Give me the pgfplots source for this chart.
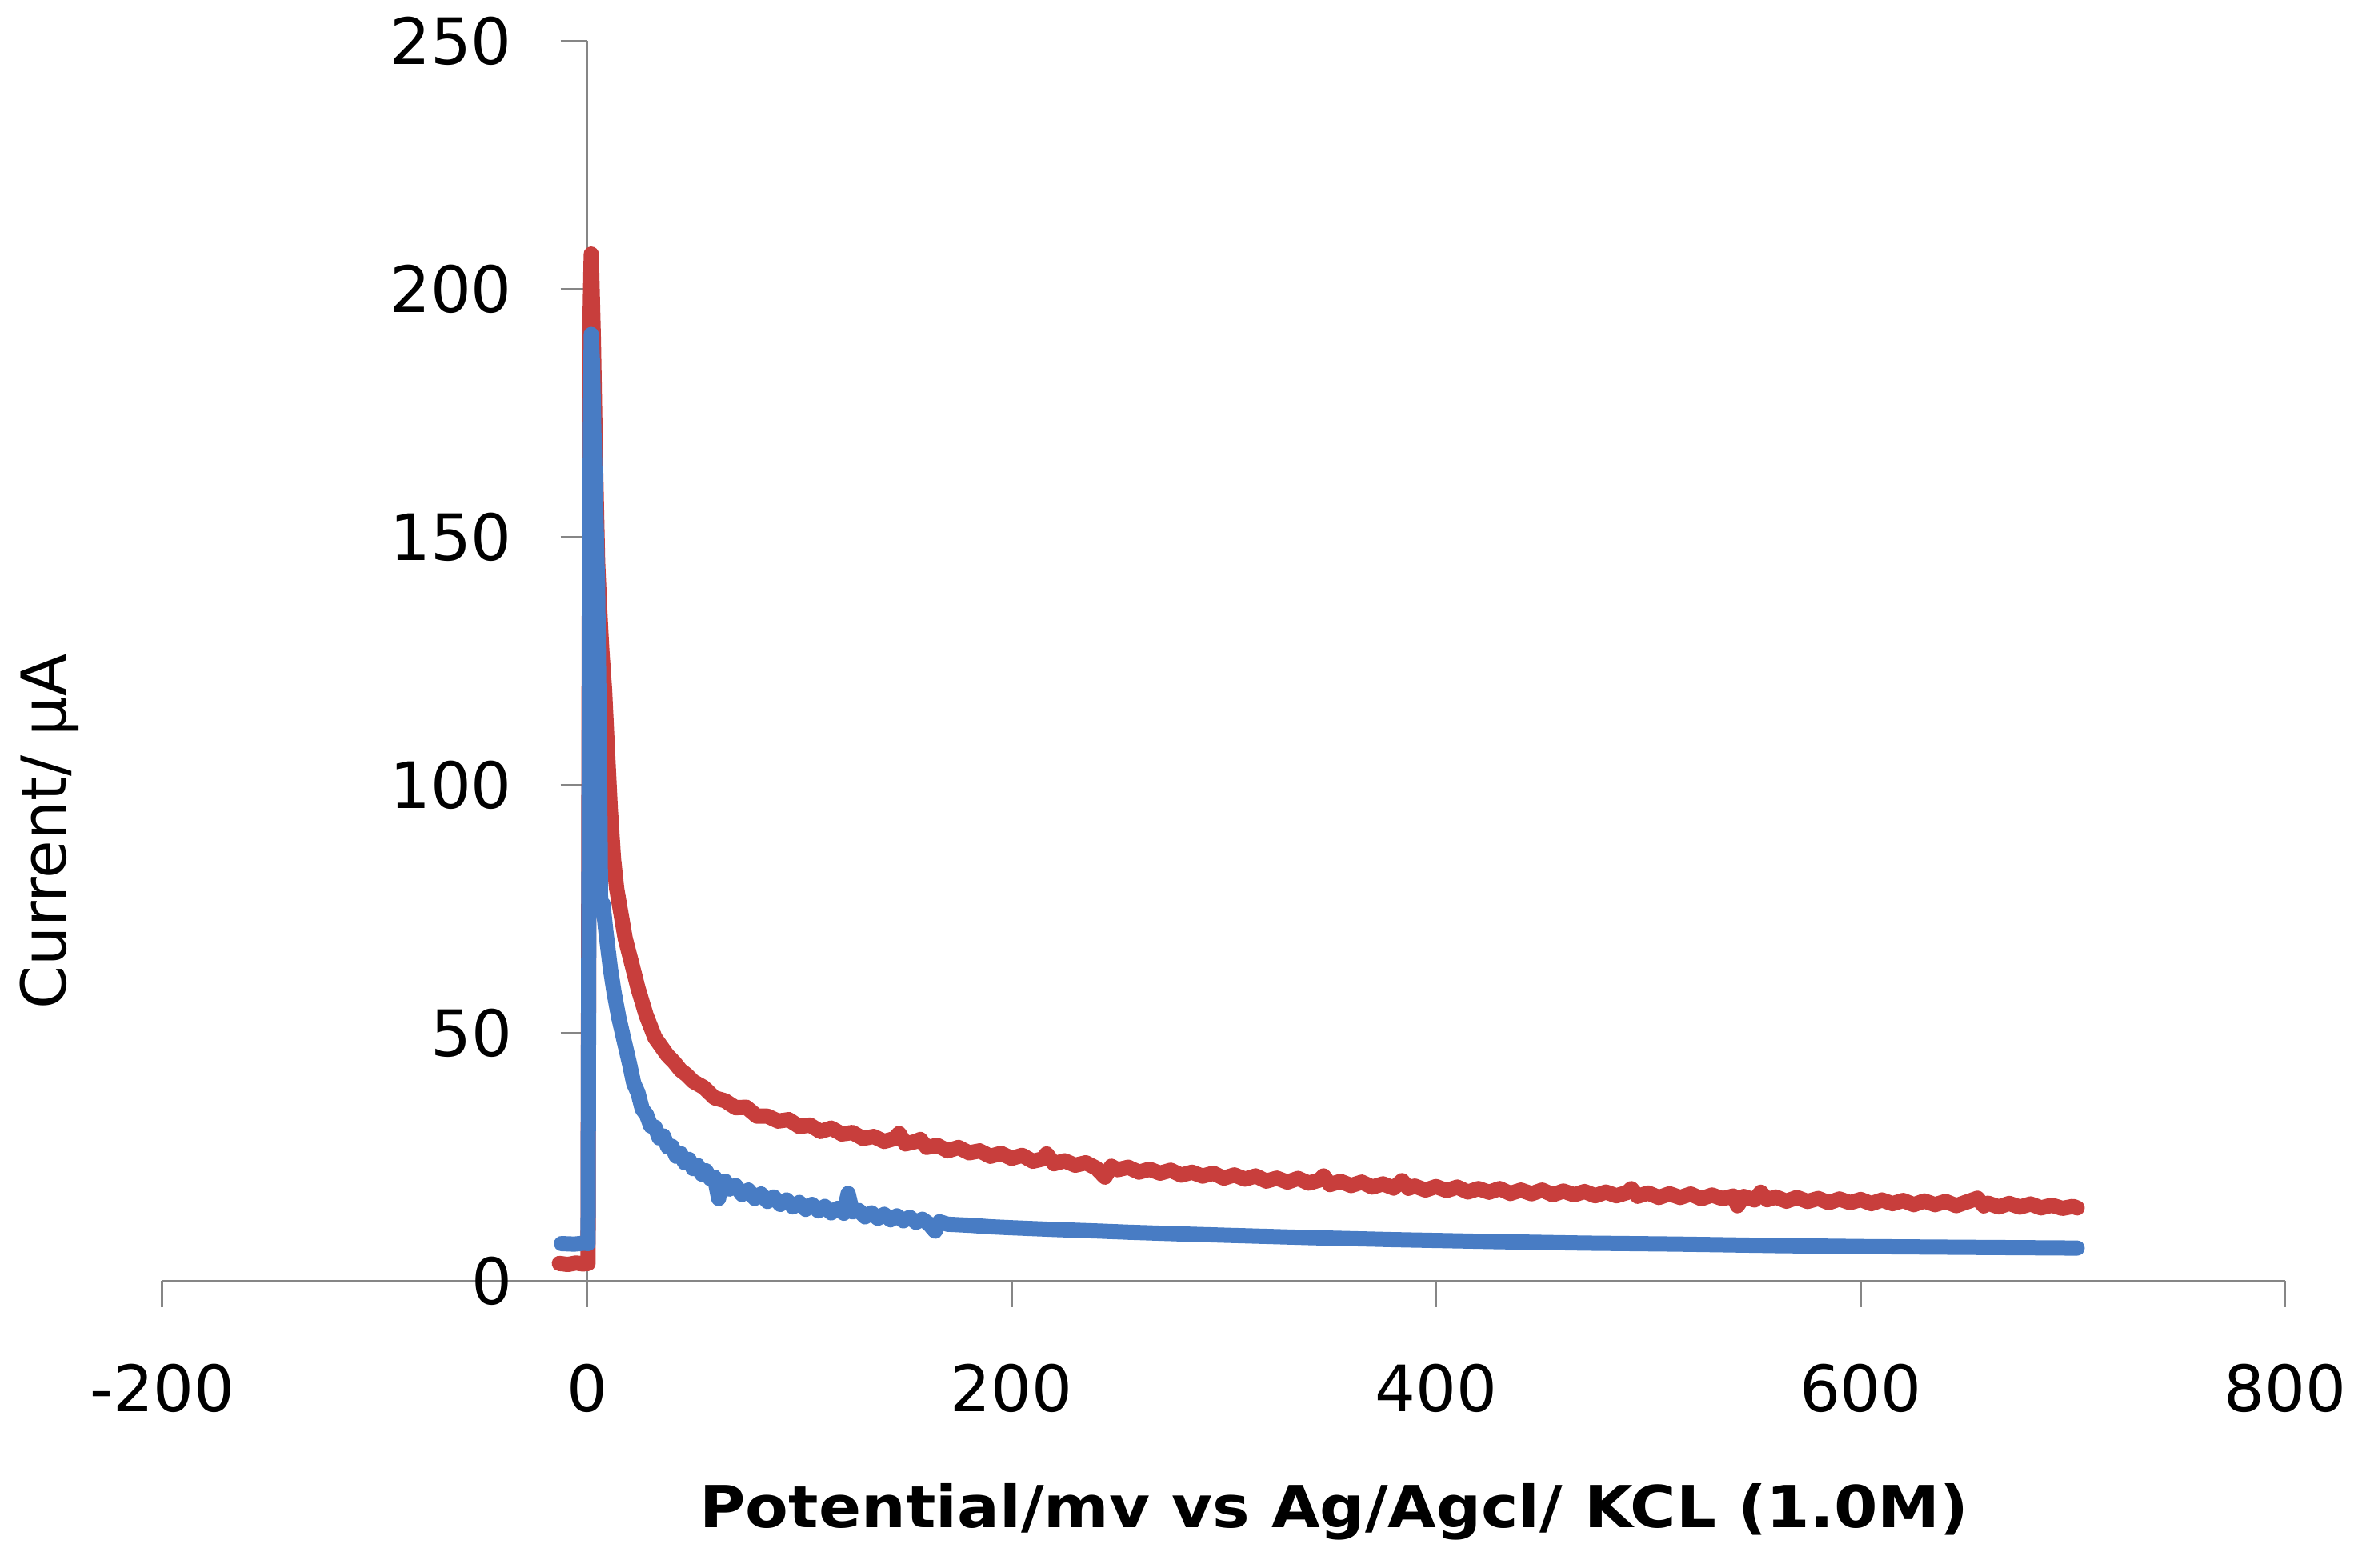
\documentclass[border=0pt]{standalone}
\usepackage{fontspec}
\setmainfont{DejaVu Sans}
\newfontfamily\xlabfont{DejaVu Sans}[FakeStretch=1.08]
\usepackage{pgfplots}
\pgfplotsset{compat=1.18}
\definecolor{myred}{RGB}{200,62,60}
\definecolor{myblue}{RGB}{72,124,196}
\definecolor{axgray}{RGB}{134,134,134}
\begin{document}
\begin{tikzpicture}
\path[use as bounding box] (-40.6pt,-71.6pt) rectangle (553.8pt,320.2pt);
\begin{axis}[
  at={(0,0)}, anchor=south west,
  scale only axis, width=530.6pt, height=310pt,
  xmin=-200, xmax=800, ymin=0, ymax=250,
  axis x line=middle, axis y line=middle,
  axis line style={axgray, line width=0.6pt, -},
  xtick={-200,0,200,400,600,800}, ytick={0,50,100,150,200,250},
  tick align=outside,
  major tick length=6.6pt,
  tick style={axgray, line width=0.6pt},
  hide obscured x ticks=false, hide obscured y ticks=false,
  /pgf/number format/assume math mode=true,
  ticklabel style={font=\fontsize{16}{16}\selectfont, text=black},
  xticklabel style={anchor=north, yshift=-10.6pt},
  yticklabel style={anchor=east, xshift=-8.6pt},
  xlabel={Potential/mv vs Ag/Agcl/ KCL (1.0M)},
  ylabel={Current/ µA},
  xlabel style={at={(rel axis cs:0.552,0)}, anchor=center, yshift=-57.8pt, font=\xlabfont\bfseries\fontsize{14.5}{14.5}\selectfont},
  ylabel style={at={(rel axis cs:-0.0531,0.362)}, anchor=center, rotate=90, font=\fontsize{15.5}{15.5}\selectfont},
  clip=false,
]
\addplot[myred, line width=3.8pt, line join=round, line cap=round] coordinates {
(-13,3.5) (-9,3.3) (-5,3.6) (-2,3.4) (0.5,3.5) (1.0,120) (1.5,195) (2.0,207) (3,190) (4,165) (5,145) (6,135) (7,127) (8.3,119) (9.5,108) (11,95) (12.5,85) (14,79) (16,74) (18,69) (20.8,64.4) (24,59) (27.8,53.6) (32,49) (35,47.2) (37.8,45.5) (41,44.1) (44,42.5) (47,41.5) (50,40.2)
(55,39.0) (60,36.9) (65,36.3) (70,34.9) (75,35.0) (80,33.2) (85,33.2) (90,32.2) (95,32.5) (100,31.1)
(105,31.4) (110,30.1) (115,30.8) (120,29.6) (125,29.9) (130,28.7) (135,29.1) (140,28.1) (145,28.7) (147,29.7)
(150,27.6) (155,28.1) (157,28.5) (160,26.9) (165,27.3) (170,26.2) (175,26.9) (180,25.8) (185,26.2) (190,25.1)
(195,25.7) (200,24.7) (205,25.3) (210,24.1) (215,24.6) (216.5,25.6) (220,23.6) (225,24.2) (230,23.3) (235,23.8)
(240,22.7) (244,20.9) (247,23.1) (250,22.4) (255,22.9) (260,21.9) (265,22.5) (270,21.7) (275,22.3) (280,21.3)
(285,21.9) (290,21.1) (295,21.7) (300,20.7) (305,21.35) (310,20.5) (315,21.15) (320,20.1) (325,20.7) (330,19.9)
(335,20.65) (340,19.7) (345,20.3) (347,21.15) (350,19.4) (355,20.05) (360,19.2) (365,19.9) (370,18.9) (375,19.55)
(380,18.7) (384,20.2) (387,18.65) (390,19.1) (395,18.3) (400,19.0) (405,18.2) (410,18.9) (415,17.9) (420,18.6)
(425,17.85) (430,18.6) (435,17.6) (440,18.3) (445,17.55) (450,18.3) (455,17.35) (460,18.1) (465,17.35) (470,18.0)
(475,17.15) (480,17.9) (485,17.15) (490,17.8) (492,18.58) (495,17.05) (500,17.7) (505,16.8) (510,17.55) (515,16.8)
(520,17.5) (525,16.55) (530,17.3) (535,16.55) (540,17.1) (542,15.15) (545,17.0) (550,16.3) (553,17.87) (556,16.35)
(560,16.9) (565,16.05) (570,16.8) (575,16.0) (580,16.6) (585,15.75) (590,16.5) (595,15.75) (600,16.4) (605,15.55)
(610,16.3) (615,15.55) (620,16.2) (625,15.35) (630,16.1) (635,15.35) (640,16.0) (645,15.15) (650,15.9) (655,16.65)
(658,15.1) (660,15.65) (665,14.9) (670,15.6) (675,14.85) (680,15.5) (685,14.7) (690,15.25) (695,14.6) (700,15.0) (702,14.7)
};
\addplot[myblue, line width=3.8pt, line join=round, line cap=round] coordinates {
(-12,7.5) (-6,7.4) (-1,7.6) (0.5,7.5) (1.0,100) (1.6,170) (2.0,190.8) (2.6,185) (3.2,172) (4,158) (5,140) (5.8,110) (6.4,76) (7.5,76) (9,70) (11,63) (12.8,58) (15,53) (17.7,48)
(20,43.8) (22,39.8) (24,37.9) (26,34.6) (28,33.5) (30,31.2) (32,31.0) (34,28.8) (36,29.2) (38,27.0)
(40,27.1) (42,25.1) (44,25.7) (46,23.8) (48,24.5) (50,22.6) (52,23.3) (54,21.5) (56,22.2) (58,20.6)
(60,20.9) (62,16.6) (63,19.5) (65,20.1) (67,18.5) (70,19.2) (73,17.4) (76,18.3) (79,16.6) (82,17.5)
(85,16.0) (88,16.9) (91,15.4) (94,16.3) (97,14.9) (100,15.8) (103,14.4) (106,15.4) (109,14.1) (112,15.0)
(115,13.7) (118,14.6) (121,13.6) (123,17.6) (125,13.9) (128,14.2) (131,12.9) (134,13.7) (137,12.6) (140,13.4)
(143,12.3) (146,13.1) (149,12.1) (152,12.8) (155,11.8) (158,12.4) (161,11.5) (164,10.0) (166,11.9) (170,11.4)
(180,11.2) (190,10.9) (200,10.7) (220,10.35) (240,10.05) (255,9.8) (280,9.45) (300,9.2) (341,8.7) (380,8.3)
(428,7.9) (470,7.6) (514,7.4) (560,7.1) (601,6.9) (650,6.75) (702,6.6)
};
\end{axis}
\end{tikzpicture}
\end{document}
